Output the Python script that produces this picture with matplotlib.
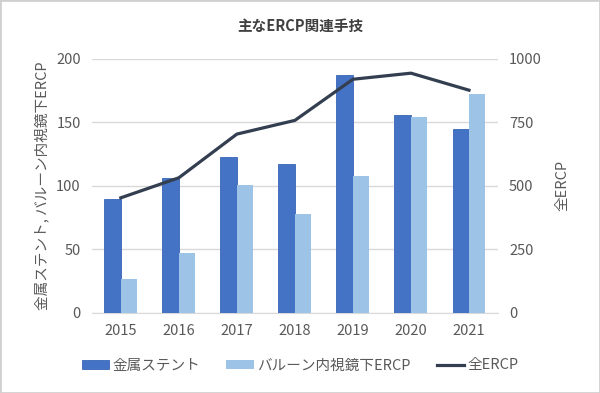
import numpy as np
import matplotlib
matplotlib.use("Agg")
import matplotlib.pyplot as plt
from matplotlib.patches import Rectangle

plt.rcParams['font.family'] = ['Noto Sans CJK JP', 'DejaVu Sans']

# data
years = ['2015', '2016', '2017', '2018', '2019', '2020', '2021']
metal_stent = [90, 106, 123, 117, 187, 156, 145]
balloon_ercp = [27, 47, 101, 78, 108, 154, 172]
all_ercp = [453, 532, 704, 758, 920, 944, 877]

text_color = '#595959'
dark_blue = '#4472C4'
light_blue = '#9DC3E6'
line_color = '#333F50'

fig = plt.figure(figsize=(6.0, 3.93), dpi=100)
ax = fig.add_axes([0.153, 0.204, 0.677, 0.646])
ax2 = ax.twinx()

x = np.arange(len(years))
w = 0.284
ax.bar(x - w / 2, metal_stent, w, color=dark_blue, edgecolor='#3A66B8', linewidth=0.6,
       label='金属ステント', zorder=3)
ax.bar(x + w / 2, balloon_ercp, w, color=light_blue, label='バルーン内視鏡下ERCP', zorder=3)
ax2.plot(x, all_ercp, color=line_color, linewidth=2.3, label='全ERCP', zorder=4)

ax.set_xlim(-0.5, len(years) - 0.5)
ax.set_ylim(0, 200)
ax.set_yticks([0, 50, 100, 150, 200])
ax2.set_ylim(0, 1000)
ax2.set_yticks([0, 250, 500, 750, 1000])
ax.set_xticks(x)
ax.set_xticklabels(years)

ax.grid(axis='y', color='#D9D9D9', linewidth=1, zorder=0)
ax.set_axisbelow(True)
for a in (ax, ax2):
    for s in a.spines.values():
        s.set_visible(False)
    a.tick_params(length=0, labelsize=10.5, colors=text_color, pad=8)
ax.spines['bottom'].set_visible(True)
ax.spines['bottom'].set_color('#D9D9D9')

ax.set_ylabel('金属ステント, バルーン内視鏡下ERCP', fontsize=10.5, color=text_color, labelpad=5)
ax2.set_ylabel('全ERCP', fontsize=10.5, color=text_color, labelpad=10)

fig.text(0.5, 0.935, '主なERCP関連手技', ha='center', va='center', fontsize=10.5,
         fontweight='bold', color='#404040')

h1, l1 = ax.get_legend_handles_labels()
h2, l2 = ax2.get_legend_handles_labels()
fig.legend(h1 + h2, l1 + l2, loc='center', bbox_to_anchor=(0.5, 0.07), ncol=3,
           frameon=False, fontsize=10.5, labelcolor=text_color, handlelength=1.9,
           handleheight=0.55, handletextpad=0.2, columnspacing=1.8)

fig.patches.append(Rectangle((0, 0), 1, 1, transform=fig.transFigure, fill=False,
                             edgecolor='#D0D0D0', linewidth=2))

fig.savefig('out.png', dpi=100)
